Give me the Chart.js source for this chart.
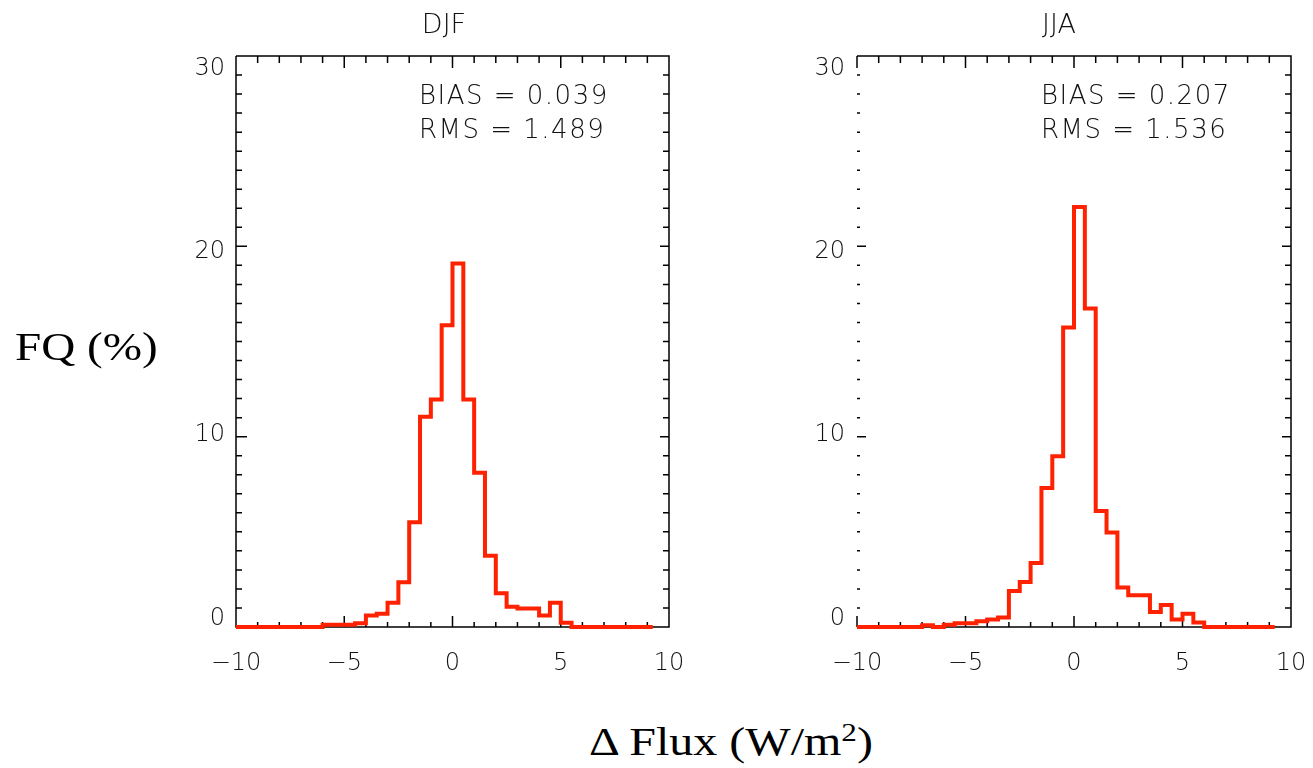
<!DOCTYPE html>
<html lang="en">
<head>
  <meta charset="UTF-8" />
  <title>DJF / JJA Flux difference histograms</title>
  <script src="https://cdn.jsdelivr.net/npm/chart.js"></script>
  <style>
    body {
      margin: 0;
      background: #fff;
      width: 1313px;
      height: 768px;
      position: relative;
      overflow: hidden;
    }
    .panel { position: absolute; top: 0; }
    .idl {
      position: absolute;
      font-family: 'DejaVu Sans', sans-serif;
      font-weight: 200;
      color: #111;
      white-space: nowrap;
    }
    .serif {
      position: absolute;
      font-family: 'Liberation Serif', 'Times New Roman', serif;
      color: #000;
      white-space: nowrap;
      line-height: 1;
    }
  </style>
</head>
<body>
  <canvas id="djf" class="panel" width="560" height="700" style="left:130px"></canvas>
  <canvas id="jja" class="panel" width="563" height="700" style="left:750px"></canvas>

  <div class="idl" style="left:0;width:888px;text-align:center;top:10px;font-size:27px;line-height:27px">DJF</div>
  <div class="idl" style="left:1042px;top:10px;font-size:27px;line-height:27px">JJA</div>

  <div class="idl" style="left:419px;top:78px;font-size:26px;line-height:34px;letter-spacing:1.5px">BIAS = 0.039<br>RMS = 1.489</div>
  <div class="idl" style="left:1041px;top:78px;font-size:26px;line-height:34px;letter-spacing:1.5px">BIAS = 0.207<br>RMS = 1.536</div>

  <div class="serif" style="left:15px;top:326px;font-size:41px;transform:scaleX(1.15);transform-origin:left center">FQ (%)</div>
  <div class="serif" style="left:731px;top:722px;font-size:40px;transform:translateX(-50%) scaleX(1.2)">&Delta; Flux (W/m<span style="font-size:26px;vertical-align:14px;line-height:0">2</span>)</div>

  <script>
    // left edge of each 0.5-wide bin; the last step stops at lineEnd
    const binLeft = [-10, -9.5, -9, -8.5, -8, -7.5, -7, -6.5, -6, -5.5, -5, -4.5, -4, -3.5, -3, -2.5, -2, -1.5, -1, -0.5,
                     0, 0.5, 1, 1.5, 2, 2.5, 3, 3.5, 4, 4.5, 5, 5.5, 6, 6.5, 7, 7.5, 8, 8.5, 9];
    const lineEnd = 9.25;

    // FQ (%) per bin
    const djfFreq = [0, 0, 0, 0, 0, 0, 0, 0, 0.12, 0.12, 0.12, 0.2, 0.6, 0.7, 1.28, 2.35, 5.5, 11.05, 11.95, 15.85,
                     19.1, 11.95, 8.1, 3.75, 1.77, 1.07, 0.97, 0.97, 0.6, 1.28, 0.22, 0, 0, 0, 0, 0, 0, 0, 0];
    const jjaFreq = [0, 0, 0, 0, 0, 0, 0.09, 0, 0.12, 0.2, 0.2, 0.3, 0.39, 0.5, 1.89, 2.37, 3.36, 7.3, 8.97, 15.73,
                     22.07, 16.73, 6.09, 4.96, 2.08, 1.67, 1.67, 0.79, 1.16, 0.39, 0.7, 0.23, 0, 0, 0, 0, 0, 0, 0];

    const xTicks = [-10, -5, 0, 5, 10];
    const yTicks = [0, 10, 20, 30];

    const RED = '#ff2200';
    const TICK_FONT = { family: 'DejaVu Sans', size: 24, weight: 200 };

    function stepPoints(freq) {
      const pts = binLeft.map((x, i) => ({ x: x, y: freq[i] }));
      pts.push({ x: lineEnd, y: freq[freq.length - 1] });
      return pts;
    }

    // IDL style box with inward ticks
    const framePlugin = {
      id: 'frame',
      beforeDatasetsDraw(chart, args, opts) {
        const { ctx, chartArea: a, scales: { x, y } } = chart;
        ctx.save();
        ctx.strokeStyle = '#000';
        ctx.lineWidth = 1.5;
        ctx.beginPath();
        ctx.moveTo(a.left, a.top);
        ctx.lineTo(a.right, a.top);
        ctx.lineTo(a.right, a.bottom);
        ctx.lineTo(a.left, a.bottom);
        if (opts.leftLine) ctx.lineTo(a.left, a.top);

        for (let v = x.min; v <= x.max; v += 1) {
          const px = x.getPixelForValue(v);
          const major = v % 5 === 0;
          ctx.moveTo(px, a.bottom);
          ctx.lineTo(px, a.bottom - (major ? 11 : 5));
          ctx.moveTo(px, a.top);
          ctx.lineTo(px, a.top + (major ? 12 : 7));
        }
        for (let v = y.min; v <= y.max; v += 1) {
          const py = y.getPixelForValue(v);
          const major = v % 10 === 0;
          ctx.moveTo(a.left, py);
          ctx.lineTo(a.left + (major ? opts.leftMajor : opts.leftMinor), py);
          ctx.moveTo(a.right, py);
          ctx.lineTo(a.right - (major ? 9 : 6), py);
        }
        ctx.stroke();
        ctx.restore();
      }
    };

    function makeChart(id, freq, yWidth, padRight, frameOpts, yPad) {
      return new Chart(document.getElementById(id), {
        type: 'line',
        data: {
          datasets: [{
            data: stepPoints(freq),
            borderColor: RED,
            borderWidth: 4,
            stepped: true,
            fill: false,
            pointRadius: 0,
            clip: false,
            borderJoinStyle: 'miter'
          }]
        },
        options: {
          responsive: false,
          animation: false,
          devicePixelRatio: 1,
          layout: { padding: { left: 0, right: padRight, top: 56, bottom: 23 } },
          plugins: {
            legend: { display: false },
            tooltip: { enabled: false },
            frame: frameOpts
          },
          scales: {
            x: {
              type: 'linear',
              min: -10,
              max: 10,
              grid: { display: false, drawTicks: false },
              border: { display: false },
              afterBuildTicks: s => { s.ticks = xTicks.map(v => ({ value: v })); },
              // fixed height, and don't let the edge labels shrink the plot box
              afterFit: s => { s.height = 50; s.paddingLeft = 0; s.paddingRight = 0; },
              ticks: {
                padding: 22,
                maxRotation: 0,
                color: '#111',
                font: TICK_FONT,
                callback: v => String(v).replace('-', '\u2212')
              }
            },
            y: {
              type: 'linear',
              min: 0,
              max: 30,
              grid: { display: false, drawTicks: false },
              border: { display: false },
              ticks: { display: false },
              afterFit: s => { s.width = 0; }
            },
            // label-only axis: in the original the 0..30 labels sit slightly
            // inside the tick marks (0 a bit high, 30 a bit low)
            yLab: {
              type: 'linear',
              position: 'left',
              min: -0.47,
              max: 30.67,
              grid: { display: false, drawTicks: false },
              border: { display: false },
              afterBuildTicks: s => { s.ticks = yTicks.map(v => ({ value: v })); },
              afterFit: s => { s.width = yWidth; },
              ticks: { padding: yPad, color: '#111', font: TICK_FONT }
            }
          }
        },
        plugins: [framePlugin]
      });
    }

    makeChart('djf', djfFreq, 106, 21, { leftLine: true, leftMajor: 11, leftMinor: 6 }, 11);
    makeChart('jja', jjaFreq, 107, 22, { leftLine: false, leftMajor: 9, leftMinor: 3 }, 12);
  </script>
</body>
</html>
